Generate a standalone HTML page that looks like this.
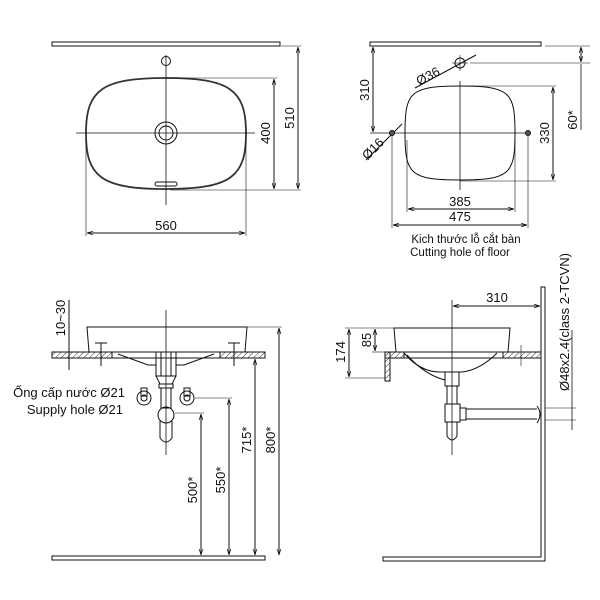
<!DOCTYPE html>
<html><head><meta charset="utf-8"><style>
html,body{margin:0;padding:0;background:#fff}
svg{display:block}
text{font-family:"Liberation Sans",sans-serif;font-size:13px;fill:#111}
</style></head><body>
<svg width="600" height="600" viewBox="0 0 600 600" xmlns="http://www.w3.org/2000/svg">
<defs>
<pattern id="h" width="4" height="4" patternUnits="userSpaceOnUse" patternTransform="rotate(45)">
<line x1="0" y1="0" x2="0" y2="4" stroke="#333" stroke-width="1"/></pattern>
<marker id="a" viewBox="0 0 10 10" refX="10" refY="5" markerWidth="6" markerHeight="6" orient="auto-start-reverse"><path d="M0,2 L10,5 L0,8" fill="none" stroke="#111" stroke-width="1.2"/></marker>
</defs>
<g stroke="#111" stroke-width="1" fill="none">
<!-- TOP LEFT -->
<rect x="52" y="42" width="228" height="4" fill="#fff"/>
<path d="M166,78 C230,78 246,90 246,133 C246,176 232,189 166,189 C100,189 86,176 86,133 C86,90 102,78 166,78 Z" stroke-width="1.8" stroke="#333"/>
<circle cx="166" cy="133" r="11"/><circle cx="166" cy="133" r="7"/>
<circle cx="166" cy="61" r="4.5"/>
<rect x="155" y="182" width="22" height="4" rx="2"/>
<line x1="166" y1="55" x2="166" y2="205" stroke-width="0.8"/>
<line x1="76" y1="133" x2="255" y2="133" stroke-width="0.8"/>
<line x1="86" y1="140" x2="86" y2="236" stroke-width="0.6"/>
<line x1="246" y1="140" x2="246" y2="236" stroke-width="0.6"/>
<line x1="87" y1="233" x2="245" y2="233" marker-start="url(#a)" marker-end="url(#a)"/>
<line x1="166" y1="78" x2="277" y2="78" stroke-width="0.6"/>
<line x1="170" y1="190" x2="301" y2="190" stroke-width="0.6"/>
<line x1="281" y1="46" x2="301" y2="46" stroke-width="0.6"/>
<line x1="274" y1="79" x2="274" y2="189" marker-start="url(#a)" marker-end="url(#a)"/>
<line x1="298" y1="47" x2="298" y2="189" marker-start="url(#a)" marker-end="url(#a)"/>
<!-- TOP RIGHT -->
<rect x="370" y="42" width="171" height="4" fill="#fff"/>
<path d="M460,86 C510,86 515,92 515,133 C515,174 510,180 460,180 C410,180 405,174 405,133 C405,92 410,86 460,86 Z"/>
<line x1="460" y1="81" x2="460" y2="190" stroke-width="0.8"/>
<line x1="370" y1="133" x2="525" y2="133" stroke-width="0.8"/>
<circle cx="528" cy="133" r="2.5" fill="#555"/>
<circle cx="460" cy="63" r="5"/>
<line x1="460" y1="55" x2="460" y2="71" stroke-width="0.6"/><line x1="452" y1="63" x2="468" y2="63" stroke-width="0.6"/>
<line x1="415" y1="88" x2="476" y2="55"/>
<line x1="470" y1="63" x2="590" y2="63" stroke-width="0.6"/>
<line x1="545" y1="46" x2="590" y2="46" stroke-width="0.6"/>
<line x1="581" y1="47" x2="581" y2="62" marker-start="url(#a)" marker-end="url(#a)"/>
<line x1="581" y1="64" x2="581" y2="130" stroke-width="0.8"/>
<line x1="373" y1="47" x2="373" y2="132" marker-start="url(#a)" marker-end="url(#a)"/>
<line x1="366" y1="160" x2="402" y2="124"/>
<circle cx="392" cy="133" r="2.5" fill="#555"/>
<line x1="392" y1="136" x2="392" y2="228" stroke-width="0.6"/>
<line x1="528" y1="136" x2="528" y2="228" stroke-width="0.6"/>
<line x1="407" y1="140" x2="407" y2="212" stroke-width="0.6"/>
<line x1="515" y1="140" x2="515" y2="212" stroke-width="0.6"/>
<line x1="408" y1="209" x2="514" y2="209" marker-start="url(#a)" marker-end="url(#a)"/>
<line x1="393" y1="225" x2="527" y2="225" marker-start="url(#a)" marker-end="url(#a)"/>
<line x1="460" y1="86" x2="556" y2="86" stroke-width="0.6"/>
<line x1="460" y1="181" x2="556" y2="181" stroke-width="0.6"/>
<line x1="553" y1="87" x2="553" y2="180" marker-start="url(#a)" marker-end="url(#a)"/>
<!-- BOTTOM LEFT -->
<path d="M87,327 L247,327 L245,352 L89,352 Z"/>
<rect x="52" y="352" width="213" height="6" fill="url(#h)"/>
<rect x="112" y="352" width="108" height="6" fill="#fff"/>
<path d="M118,354 L148,365 L156,365 L156,352 M214,354 L184,365 L176,365 L176,352"/>
<rect x="156" y="352" width="20" height="24"/><rect x="161" y="352" width="10" height="24"/>
<path d="M156,376 L160,384 L172,384 L176,376"/>
<rect x="159" y="384" width="14" height="4"/><rect x="161" y="388" width="10" height="20"/>
<circle cx="166" cy="415" r="8"/><path d="M160,420 L160,438 Q166,446 172,438 L172,420"/>
<line x1="166" y1="310" x2="166" y2="455" stroke-width="0.8"/>
<circle cx="144" cy="398" r="7"/><circle cx="144" cy="398" r="3"/><rect x="141" y="388" width="6" height="8"/>
<circle cx="187" cy="398" r="7"/><circle cx="187" cy="398" r="3"/><rect x="184" y="388" width="6" height="8"/>
<path d="M95,343 L107,343 M101,343 L101,366 M228,343 L240,343 M234,343 L234,366"/>
<rect x="52" y="556" width="213" height="4" fill="#fff"/>
<line x1="175" y1="413" x2="204" y2="413" stroke-width="0.6"/>
<line x1="195" y1="398" x2="232" y2="398" stroke-width="0.6"/>
<line x1="247" y1="327" x2="282" y2="327" stroke-width="0.6"/>
<line x1="201" y1="414" x2="201" y2="555" marker-start="url(#a)" marker-end="url(#a)"/>
<line x1="229" y1="399" x2="229" y2="555" marker-start="url(#a)" marker-end="url(#a)"/>
<line x1="255" y1="359" x2="255" y2="555" marker-start="url(#a)" marker-end="url(#a)"/>
<line x1="279" y1="328" x2="279" y2="555" marker-start="url(#a)" marker-end="url(#a)"/>
<line x1="69" y1="300" x2="69" y2="370"/>
<line x1="63" y1="352" x2="75" y2="352" stroke-width="0.6"/>
<!-- BOTTOM RIGHT -->
<path d="M541,287 L545,287 L545,561 L383,561 L383,557 L541,557 Z" fill="#fff"/>
<path d="M394,328 L510,328 L508,352 L396,352 Z"/>
<rect x="385" y="352" width="156" height="6" fill="url(#h)"/>
<rect x="404" y="352" width="99" height="6" fill="#fff"/>
<rect x="385" y="352" width="5" height="29" fill="url(#h)"/>
<path d="M404,353 Q420,372 440,372 L462,372 Q480,370 497,353"/>
<path d="M407,355 Q425,375 445,380"/>
<rect x="445" y="372" width="14" height="14"/><rect x="447" y="386" width="10" height="18"/>
<rect x="445" y="404" width="15" height="18"/>
<path d="M447,422 L447,436 Q452,444 457,436 L457,422"/>
<rect x="460" y="408" width="6" height="12"/>
<line x1="466" y1="409" x2="537" y2="409"/><line x1="466" y1="419" x2="537" y2="419"/>
<path d="M537,406 Q543,414 537,423"/>
<line x1="452" y1="300" x2="452" y2="455" stroke-width="0.8"/>
<line x1="453" y1="306" x2="540" y2="306" marker-start="url(#a)" marker-end="url(#a)"/>
<line x1="345" y1="328" x2="394" y2="328" stroke-width="0.6"/>
<line x1="372" y1="352" x2="385" y2="352" stroke-width="0.6"/>
<line x1="345" y1="378" x2="385" y2="378" stroke-width="0.6"/>
<line x1="349" y1="329" x2="349" y2="377" marker-start="url(#a)" marker-end="url(#a)"/>
<line x1="375" y1="329" x2="375" y2="351" marker-start="url(#a)" marker-end="url(#a)"/>
<line x1="521" y1="345" x2="521" y2="366" stroke-width="0.6"/>
<line x1="572" y1="330" x2="572" y2="430" stroke-width="0.8"/>
<line x1="545" y1="408" x2="576" y2="408" stroke-width="0.6"/>
<line x1="545" y1="420" x2="576" y2="420" stroke-width="0.6"/>
</g>
<g>
<text x="166" y="230" text-anchor="middle">560</text>
<text transform="translate(270,133) rotate(-90)" text-anchor="middle">400</text>
<text transform="translate(294,118) rotate(-90)" text-anchor="middle">510</text>
<text transform="translate(369,90) rotate(-90)" text-anchor="middle">310</text>
<text transform="translate(430,80) rotate(-28)" text-anchor="middle">Ø36</text>
<text transform="translate(376,152) rotate(-45)" text-anchor="middle">Ø16</text>
<text transform="translate(577,120) rotate(-90)" text-anchor="middle">60*</text>
<text transform="translate(549,133) rotate(-90)" text-anchor="middle">330</text>
<text x="460" y="206" text-anchor="middle">385</text>
<text x="460" y="221" text-anchor="middle">475</text>
<text x="466" y="243" text-anchor="middle" style="font-size:11.5px">Kich thước lỗ cắt bàn</text>
<text x="460" y="256" text-anchor="middle" style="font-size:11.5px">Cutting hole of floor</text>
<text transform="translate(65,318) rotate(-90)" text-anchor="middle">10~30</text>
<text x="125" y="397" text-anchor="end">Ống cấp nước Ø21</text>
<text x="123" y="414" text-anchor="end">Supply hole Ø21</text>
<text transform="translate(197,490) rotate(-90)" text-anchor="middle">500*</text>
<text transform="translate(225,480) rotate(-90)" text-anchor="middle">550*</text>
<text transform="translate(251,440) rotate(-90)" text-anchor="middle">715*</text>
<text transform="translate(275,440) rotate(-90)" text-anchor="middle">800*</text>
<text x="497" y="302" text-anchor="middle">310</text>
<text transform="translate(345,352) rotate(-90)" text-anchor="middle">174</text>
<text transform="translate(371,340) rotate(-90)" text-anchor="middle">85</text>
<text transform="translate(569,322) rotate(-90)" text-anchor="middle">Ø48x2.4(class 2-TCVN)</text>
</g>
</svg>
</body></html>
